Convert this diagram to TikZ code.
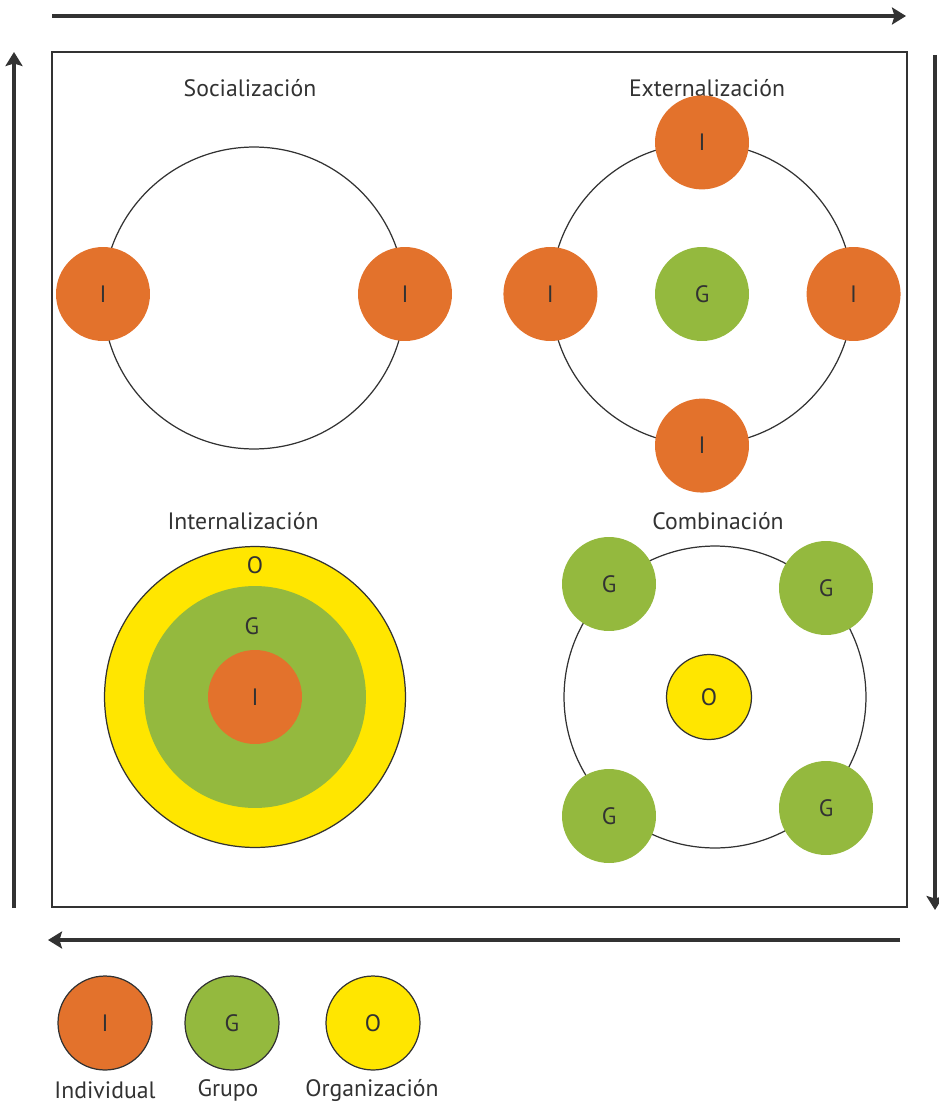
\documentclass[tikz,border=0pt]{standalone}
\usepackage{fontspec}
\setmainfont{PT Sans}
\usetikzlibrary{arrows.meta,positioning}
\definecolor{naranja}{RGB}{227,114,44}
\definecolor{verde}{RGB}{148,185,62}
\definecolor{amarillo}{RGB}{255,230,0}
\definecolor{tinta}{RGB}{50,50,50}

\begin{document}
\begin{tikzpicture}[x=0.02cm, y=-0.02cm,
  every node/.style={text=tinta, font=\fontsize{13.5}{16}\selectfont},
  flecha/.style={line width=1.8pt, draw=tinta, -{Stealth[length=0.28cm,width=0.34cm,inset=0.05cm]}},
  aro/.style={circle, draw=tinta, line width=0.7pt, minimum size=6.04cm, inner sep=0pt},
  indiv/.style={circle, fill=naranja, minimum size=1.88cm, inner sep=0pt},
  grupo/.style={circle, fill=verde, minimum size=1.88cm, inner sep=0pt},
  orga/.style={circle, fill=amarillo, draw=tinta, line width=0.7pt, minimum size=1.88cm, inner sep=0pt},
  leyenda/.style={draw=tinta, line width=0.7pt}]

\useasboundingbox (0,0) rectangle (938,1105);
\draw[line width=0.9pt, draw=tinta] (52,52) rectangle (907,907);

\coordinate (arribaA) at (52,16);
\coordinate (arribaB) at (906,16);
\coordinate (derA) at (935,55);
\coordinate (derB) at (935,910);
\coordinate (abajoA) at (900,940);
\coordinate (abajoB) at (48,940);
\coordinate (izqA) at (14,908);
\coordinate (izqB) at (14,52);
\draw [flecha] (arribaA) -- (arribaB);
\draw [flecha] (derA) -- (derB);
\draw [flecha] (abajoA) -- (abajoB);
\draw [flecha] (izqA) -- (izqB);

\node (soc) at (250,88) {Socialización};
\node[aro] (socaro) at (254,298) {};
\node[indiv] (soci1) at (103,294) {I};
\node[indiv] (soci2) at (405,294) {I};

\node (ext) at (707,88) {Externalización};
\node[aro] (extaro) at (702,294) {};
\node[grupo] (extg) at (extaro.center) {G};
\node[indiv] (exti1) at (extaro.north) {I};
\node[indiv] (exti2) at (extaro.west) {I};
\node[indiv] (exti3) at (extaro.east) {I};
\node[indiv] (exti4) at (extaro.south) {I};

\node (int) at (243,521) {Internalización};
\node[orga, minimum size=6.02cm] (into) at (255,697) {};
\node[grupo, minimum size=4.44cm] (intg) at (into.center) {};
\node[indiv] (inti) at (into.center) {I};
\node (intolab) at (255,565) {O};
\node (intglab) at (252,626) {G};

\node (com) at (718,521) {Combinación};
\node[aro] (comaro) at (715,697) {};
\node[orga, minimum size=1.7cm] (como) at (709,697) {O};
\node[grupo] (comg1) at (609,584) {G};
\node[grupo] (comg2) at (826,588) {G};
\node[grupo] (comg3) at (609,816) {G};
\node[grupo] (comg4) at (826,808) {G};

\node[indiv, leyenda] (leyi) at (105,1023) {I};
\node[grupo, leyenda] (leyg) at (232,1023) {G};
\node[orga] (leyo) at (373,1023) {O};
\node (leyilab) at (105,1090) {Individual};
\node (leyglab) at (228,1090) {Grupo};
\node (leyolab) at (372,1090) {Organización};
\end{tikzpicture}
\end{document}
